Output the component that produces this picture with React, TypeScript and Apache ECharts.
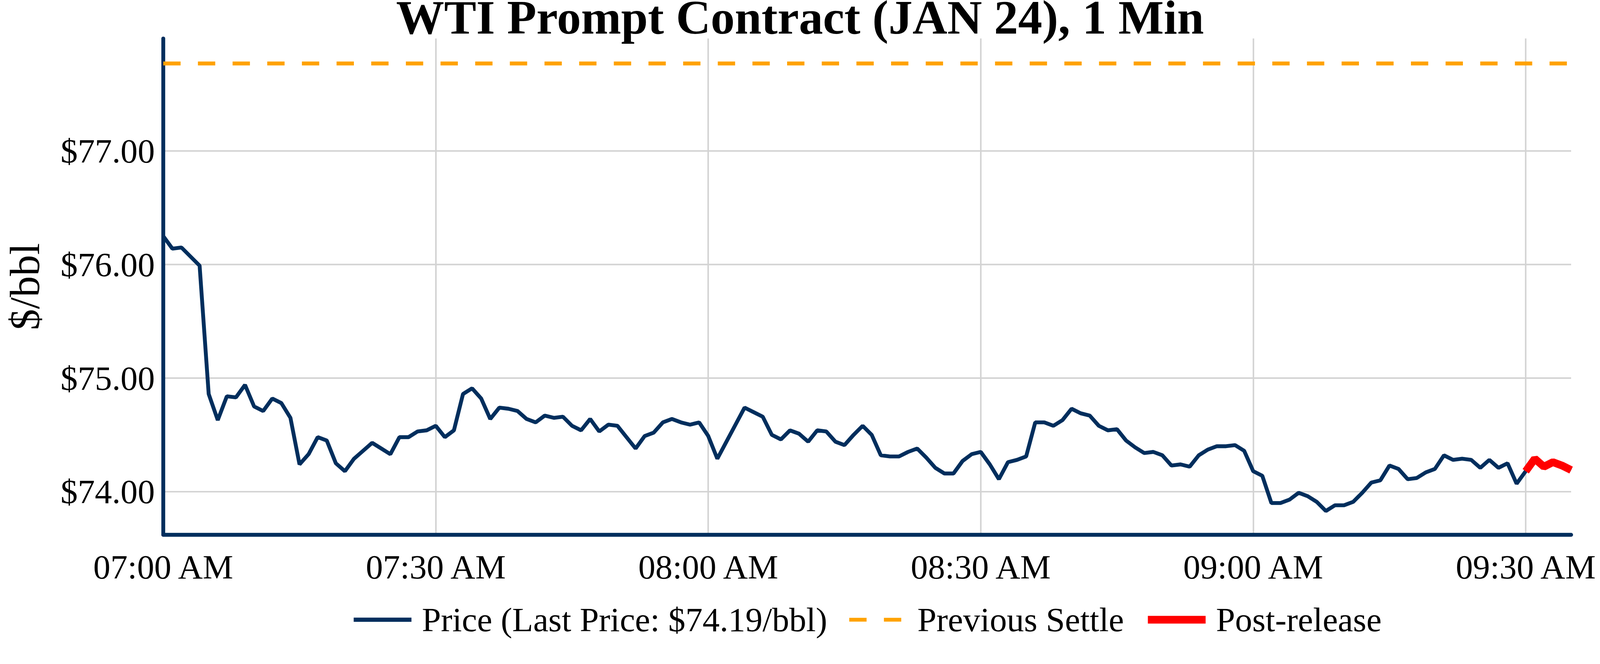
import React, { useEffect, useRef } from "react";
import * as echarts from "echarts";

const chartTitle = "WTI Prompt Contract (JAN 24), 1 Min";
const yAxisTitle = "$/bbl";
const startMinute = 7 * 60; // 07:00 AM, one value per minute
const releaseTime = "09:30 AM";
const previousSettle = 77.77;
const lastPrice = 74.19;

// 1-minute prices, 07:00 AM .. 09:35 AM
const priceValues = [
  76.25, 76.14, 76.15, 76.07, 75.99, 74.86, 74.63, 74.84, 74.83, 74.94,
  74.75, 74.71, 74.82, 74.78, 74.65, 74.24, 74.33, 74.48, 74.45, 74.25,
  74.18, 74.29, 74.36, 74.43, 74.38, 74.33, 74.48, 74.48, 74.53, 74.54,
  74.58, 74.48, 74.54, 74.86, 74.91, 74.82, 74.64, 74.74, 74.73, 74.71,
  74.64, 74.61, 74.67, 74.65, 74.66, 74.58, 74.54, 74.64, 74.53, 74.59,
  74.58, 74.48, 74.38, 74.49, 74.52, 74.61, 74.64, 74.61, 74.59, 74.61,
  74.49, 74.29, 74.44, 74.59, 74.74, 74.70, 74.66, 74.50, 74.46, 74.54,
  74.51, 74.44, 74.54, 74.53, 74.44, 74.41, 74.50, 74.58, 74.50, 74.32,
  74.31, 74.31, 74.35, 74.38, 74.30, 74.21, 74.16, 74.16, 74.27, 74.33,
  74.35, 74.24, 74.11, 74.26, 74.28, 74.31, 74.61, 74.61, 74.58, 74.63,
  74.73, 74.69, 74.67, 74.58, 74.54, 74.55, 74.45, 74.39, 74.34, 74.35,
  74.32, 74.23, 74.24, 74.22, 74.32, 74.37, 74.40, 74.40, 74.41, 74.36,
  74.18, 74.14, 73.90, 73.90, 73.93, 73.99, 73.96, 73.91, 73.83, 73.88,
  73.88, 73.91, 73.99, 74.08, 74.10, 74.23, 74.20, 74.11, 74.12, 74.17,
  74.20, 74.32, 74.28, 74.29, 74.28, 74.21, 74.28, 74.21, 74.25, 74.07,
  74.18, 74.29, 74.22, 74.26, 74.23, 74.19,
];

const FONT = '"Liberation Serif", "Times New Roman", serif';
const NAVY = "#002E5D";
const ORANGE = "#FFA200";
const RED = "#FF0000";
const GRID = "#D3D3D3";
const W = 4155;
const H = 1700;

function fmtTime(m: number): string {
  const h = Math.floor(m / 60);
  const mm = m % 60;
  const ampm = h >= 12 ? "PM" : "AM";
  const h12 = h % 12 === 0 ? 12 : h % 12;
  return `${String(h12).padStart(2, "0")}:${String(mm).padStart(2, "0")} ${ampm}`;
}

const times = priceValues.map((_, i) => fmtTime(startMinute + i));
const releaseIdx = times.indexOf(releaseTime);
const priceName = `Price (Last Price: $${lastPrice.toFixed(2)}/bbl)`;

export default function App() {
  const ref = useRef<HTMLDivElement>(null);

  const vw = typeof window !== "undefined" ? document.documentElement.clientWidth || window.innerWidth : W;
  const s = vw > 0 ? vw / W : 1;

  useEffect(() => {
    if (!ref.current) return;
    const chart = echarts.init(ref.current, undefined, { renderer: "svg" });
    const hiddenSymbol = { color: "rgba(0,0,0,0)", borderWidth: 0, opacity: 0 };
    chart.setOption({
      animation: false,
      backgroundColor: "#ffffff",
      title: {
        text: chartTitle,
        left: "center",
        top: 0,
        padding: 0,
        textStyle: { fontFamily: FONT, fontSize: 125, lineHeight: 90, fontWeight: "bold", color: "#000" },
      },
      legend: {
        left: 913,
        top: 1565,
        padding: 0,
        itemWidth: 150,
        itemHeight: 30,
        itemGap: 52,
        selectedMode: false,
        itemStyle: hiddenSymbol,
        textStyle: { fontFamily: FONT, fontSize: 89, color: "#000", padding: [0, 0, 0, 22] },
        data: [
          { name: priceName, lineStyle: { width: 11 }, itemStyle: hiddenSymbol },
          { name: "Previous Settle", lineStyle: { width: 10 }, itemStyle: hiddenSymbol },
          { name: "Post-release", lineStyle: { width: 20 }, itemStyle: hiddenSymbol },
        ],
      },
      grid: { left: 424, right: 75, top: 100, bottom: 311, containLabel: false },
      xAxis: {
        type: "category",
        data: times,
        boundaryGap: false,
        axisLine: { show: true, onZero: false, lineStyle: { color: NAVY, width: 10 } },
        axisTick: { show: false },
        axisLabel: { interval: 29, margin: 39, fontFamily: FONT, fontSize: 89, color: "#000" },
        splitLine: { show: true, interval: 29, lineStyle: { color: GRID, width: 4 } },
      },
      yAxis: {
        type: "value",
        min: 73.62,
        max: 77.99,
        name: yAxisTitle,
        nameLocation: "middle",
        nameGap: 305,
        nameTextStyle: { fontFamily: FONT, fontSize: 110, color: "#000" },
        axisLine: { show: true, lineStyle: { color: NAVY, width: 10 } },
        axisTick: { show: false },
        axisLabel: {
          margin: 22,
          fontFamily: FONT,
          fontSize: 89,
          color: "#000",
          showMinLabel: false,
          showMaxLabel: false,
          formatter: (v: number) => `$${v.toFixed(2)}`,
        },
        splitLine: {
          show: true,
          showMinLine: false,
          showMaxLine: false,
          lineStyle: { color: GRID, width: 4 },
        },
      },
      series: [
        {
          name: "Previous Settle",
          type: "line",
          data: times.map(() => previousSettle),
          symbol: "none",
          silent: true,
          lineStyle: { color: ORANGE, width: 10, type: [45, 45] },
          itemStyle: { color: ORANGE },
          z: 2,
        },
        {
          name: priceName,
          type: "line",
          data: priceValues,
          symbol: "none",
          silent: true,
          lineStyle: { color: NAVY, width: 10 },
          itemStyle: { color: NAVY },
          z: 3,
        },
        {
          name: "Post-release",
          type: "line",
          data: priceValues.map((v, i) => (i >= releaseIdx ? v : null)),
          symbol: "none",
          silent: true,
          lineStyle: { color: RED, width: 20 },
          itemStyle: { color: RED },
          z: 4,
        },
      ],
    });
    return () => chart.dispose();
  }, []);

  return (
    <div
      ref={ref}
      style={{
        position: "fixed",
        left: 0,
        top: 0,
        width: W,
        height: H,
        background: "#fff",
        transformOrigin: "0 0",
        transform: `scale(${s})`,
      }}
    />
  );
}
